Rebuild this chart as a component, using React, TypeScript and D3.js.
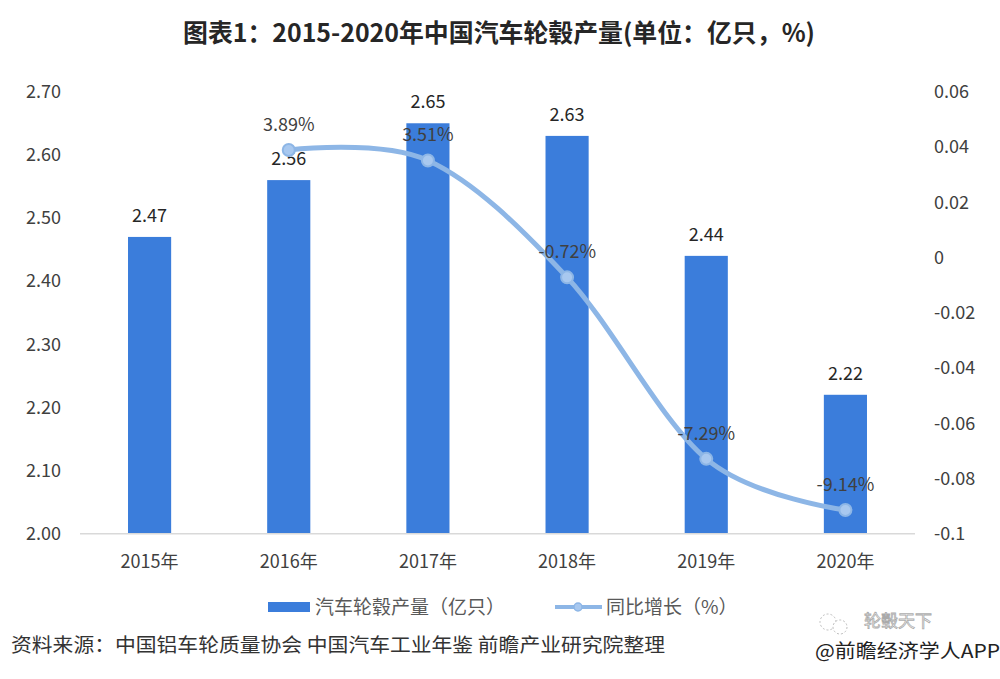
import { scaleBand, scaleLinear, line as d3line, curveCardinal } from "d3";

const years = ["2015年", "2016年", "2017年", "2018年", "2019年", "2020年"];
const output = [2.47, 2.56, 2.65, 2.63, 2.44, 2.22];
const growth: (number | null)[] = [null, 0.0389, 0.0351, -0.0072, -0.0729, -0.0914];
const growthLabels = ["", "3.89%", "3.51%", "-0.72%", "-7.29%", "-9.14%"];
const leftTicks = [2.0, 2.1, 2.2, 2.3, 2.4, 2.5, 2.6, 2.7];
const rightTicks = [-0.1, -0.08, -0.06, -0.04, -0.02, 0, 0.02, 0.04, 0.06];

const title = "图表1：2015-2020年中国汽车轮毂产量(单位：亿只，%)";
const legendBar = "汽车轮毂产量（亿只）";
const legendLine = "同比增长（%）";
const source = "资料来源：中国铝车轮质量协会 中国汽车工业年鉴 前瞻产业研究院整理";
const credit = "@前瞻经济学人APP";
const stamp = "轮毂天下";

const font = "'Noto Sans CJK SC', 'Noto Sans', sans-serif";
const barColor = "#3b7ddb";
const lineColor = "#8db6e6";

export default function App() {
  const left = 80;
  const right = 915;
  const top = 91.7;
  const bottom = 533.7;

  let x = scaleBand<string>().domain(years).range([left, right]).paddingInner(0.69).paddingOuter(0.345);
  let yL = scaleLinear().domain([2.0, 2.7]).range([bottom, top]);
  let yR = scaleLinear().domain([-0.1, 0.06]).range([bottom, top]);
  const cx = (i: number) => (x(years[i]) ?? 0) + x.bandwidth() / 2;

  const pts = growth
    .map((g, i) => ({ g, i }))
    .filter((d) => d.g !== null) as { g: number; i: number }[];

  let line = d3line<{ g: number; i: number }>()
    .x((d) => cx(d.i))
    .y((d) => yR(d.g))
    .curve(curveCardinal.tension(0));

  const fmtR = (v: number) => String(+v.toFixed(2));

  return (
    <svg
      width={1000}
      height={679}
      style={{ position: "absolute", left: 0, top: 0, background: "#fff" }}
      fontFamily={font}
    >
      <rect width={1000} height={679} fill="#fff" />
      {/* Title */}
      <text x={183} y={42} fontSize={25} fontWeight="bold" fill="#262626" textLength={632} lengthAdjust="spacingAndGlyphs">
        {title}
      </text>

      {/* Left axis */}
      {leftTicks.map((t) => (
        <text key={t} x={61} y={yL(t)} dy="0.35em" textAnchor="end" fontSize={18} fill="#404040">
          {t.toFixed(2)}
        </text>
      ))}
      {/* Right axis */}
      {rightTicks.map((t) => (
        <text key={t} x={934} y={yR(t)} dy="0.35em" fontSize={18} fill="#404040">
          {fmtR(t)}
        </text>
      ))}

      {/* Bars */}
      {output.map((v, i) => (
        <g key={years[i]}>
          <rect x={x(years[i])} y={yL(v)} width={x.bandwidth()} height={bottom - yL(v)} fill={barColor} />
          <text x={cx(i)} y={yL(v) - 15} textAnchor="middle" fontSize={18} fill="#262626">
            {v.toFixed(2)}
          </text>
        </g>
      ))}

      <line x1={left} x2={right} y1={bottom} y2={bottom} stroke="#d9d9d9" strokeWidth={1.5} />

      {/* X labels */}
      {years.map((yr, i) => (
        <text key={yr} x={cx(i)} y={568} textAnchor="middle" fontSize={18} fill="#404040">
          {yr}
        </text>
      ))}

      {/* Growth line */}
      <path d={line(pts) ?? undefined} fill="none" stroke={lineColor} strokeWidth={5} strokeLinecap="round" />
      {pts.map((d) => (
        <g key={d.i}>
          <circle cx={cx(d.i)} cy={yR(d.g)} r={6} fill="#a8c8ef" stroke={lineColor} strokeWidth={2} />
          <text x={cx(d.i)} y={yR(d.g) - 19} textAnchor="middle" fontSize={18} fill="#404040">
            {growthLabels[d.i]}
          </text>
        </g>
      ))}

      {/* Legend */}
      <rect x={268} y={602} width={42} height={10} fill={barColor} />
      <text x={315} y={607} dy="0.35em" fontSize={19} fill="#595959">
        {legendBar}
      </text>
      <line x1={555} x2={602} y1={607} y2={607} stroke={lineColor} strokeWidth={4} />
      <circle cx={578} cy={607} r={4} fill="#a8c8ef" stroke={lineColor} strokeWidth={1.5} />
      <text x={606} y={607} dy="0.35em" fontSize={19} fill="#595959">
        {legendLine}
      </text>

      {/* Footer */}
      <text x={11} y={645} dy="0.35em" fontSize={19.5} fill="#333" textLength={654} lengthAdjust="spacingAndGlyphs">
        {source}
      </text>
      <g opacity={0.55}>
        <circle cx={828} cy={622} r={8} fill="none" stroke="#888" strokeWidth={1} strokeDasharray="2 2" />
        <circle cx={840} cy={627} r={7} fill="#fff" stroke="#888" strokeWidth={1} strokeDasharray="2 2" />
        <text x={864} y={621} dy="0.35em" fontSize={17} fill="none" stroke="#666" strokeWidth={0.8}>
          {stamp}
        </text>
      </g>
      <text x={815} y={651} dy="0.35em" fontSize={19} fill="#222" textLength={185} lengthAdjust="spacingAndGlyphs">
        {credit}
      </text>
    </svg>
  );
}
